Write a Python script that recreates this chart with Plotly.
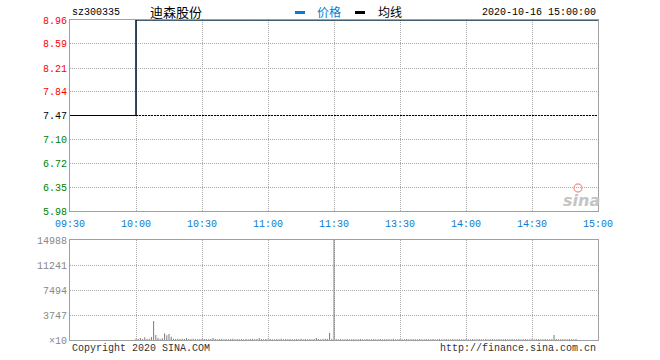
import plotly.graph_objects as go

# ---------------- data ----------------
stock_code = "sz300335"
stock_name = "迪森股份"
stamp = "2020-10-16 15:00:00"
time_labels = ["09:30", "10:00", "10:30", "11:00", "11:30", "13:30", "14:00", "14:30", "15:00"]
time_tick_index = [0, 30, 60, 90, 120, 150, 180, 210, 240]
prev_close = 7.47
price_ticks = [5.98, 6.35, 6.72, 7.10, 7.47, 7.84, 8.21, 8.59, 8.96]
pct_labels = ["-19.95%", "-14.96%", "-9.97%", "-4.99%", "0.00%", "+4.99%", "+9.97%", "+14.96%", "+19.95%"]
vol_ticks = [0, 3747, 7494, 11241, 14988]
vol_labels = ["×10", "3747", "7494", "11241", "14988"]

minutes = list(range(241))
price = [7.47] * 30 + [8.96] * 211
avg_price = [7.47] * 30 + [8.96] * 211
volume = (
    [0] * 30
    + [200, 150, 300, 150, 400, 150, 200, 450, 2850, 750]
    + [300, 150, 250, 1000, 700, 900, 500, 200, 150, 200]
    + [150, 200, 150, 300, 150, 150, 200, 150, 100, 150]
    + [200, 150, 150, 100, 150, 300, 150, 100, 150, 200]
    + [100, 150, 100, 150, 200, 100, 150, 100, 150, 100]
    + [150, 100, 150, 200, 100, 150, 300, 150, 100, 150]
    + [100, 150, 100, 100, 150, 100, 200, 100, 150, 100]
    + [150, 100, 100, 150, 100, 200, 100, 150, 100, 150]
    + [100, 150, 300, 150, 100, 150, 200, 150, 1100, 150]
    + [14988]
    + [150, 100, 150, 100, 100, 150, 100, 100, 150, 100]
    + [100, 150, 100, 100, 150, 100, 100, 150, 100, 100]
    + [150, 100, 100, 150, 100, 100, 200, 100, 100, 150]
    + [100, 100, 150, 100, 100, 150, 100, 100, 150, 100]
    + [100, 150, 100, 100, 150, 100, 100, 150, 100, 100]
    + [150, 100, 100, 150, 100, 100, 150, 100, 100, 150]
    + [100, 100, 150, 100, 100, 150, 100, 100, 150, 100]
    + [100, 150, 100, 100, 150, 100, 100, 150, 100, 100]
    + [150, 100, 100, 150, 100, 100, 150, 100, 100, 150]
    + [100, 100, 150, 100, 100, 150, 100, 100, 150, 750]
    + [150, 100, 100, 150, 100, 100, 150, 100, 100, 150]
)

# ---------------- style ----------------
W, H = 660, 360
X0, X1 = 70, 598
MAIN_TOP, MAIN_BOT = 20, 211
VOL_TOP, VOL_BOT = 240, 340
RED, GREEN, BLACK = "#ff0000", "#008000", "#000000"
BLUE = "#0b7ad0"
FRAME = "#a0a0a0"
GRID = "#aaaaaa"
GRID_DASH = "1px,1px"
MONO = "Liberation Mono, DejaVu Sans Mono, monospace"
CJK = "Noto Sans CJK SC, sans-serif"


def colored(values, labels):
    out = []
    for v, lab in zip(values, labels):
        c = RED if v > prev_close + 1e-9 else (GREEN if v < prev_close - 1e-9 else BLACK)
        out.append(f"<span style='color:{c}'>{lab}</span>")
    return out


def px_x(x):
    return x / W


def px_y(y):
    return 1 - y / H


fig = go.Figure()

fig.add_trace(go.Scatter(x=[minutes[0], minutes[-1]], y=[prev_close, prev_close], mode="lines",
                         line=dict(color=BLACK, width=1, dash="2px,1px"), xaxis="x", yaxis="y",
                         hoverinfo="skip", showlegend=False))
fig.add_trace(go.Scatter(x=minutes, y=price, mode="lines", line=dict(color=BLUE, width=1, shape="hv"),
                         name="价格", xaxis="x", yaxis="y", showlegend=False))
fig.add_trace(go.Scatter(x=minutes, y=avg_price, mode="lines", line=dict(color=BLACK, width=1.2, shape="hv"),
                         name="均线", xaxis="x", yaxis="y", showlegend=False))
fig.add_trace(go.Bar(x=minutes, y=volume, width=0.45, marker=dict(color="#7a7a7a", line=dict(width=0)),
                     xaxis="x2", yaxis="y3", showlegend=False))

common_x = dict(domain=[px_x(X0), px_x(X1)], range=[0, 240], tickvals=time_tick_index,
                showgrid=True, griddash=GRID_DASH, gridcolor=GRID, gridwidth=1, automargin=False,
                showline=True, linecolor=FRAME, linewidth=1, mirror=True, zeroline=False, ticks="")

fig.update_layout(
    width=W, height=H, margin=dict(l=0, r=0, t=0, b=0, autoexpand=False),
    paper_bgcolor="white", plot_bgcolor="white", showlegend=False,
    xaxis=dict(**common_x, anchor="y", ticktext=time_labels, ticklabelstandoff=3,
               tickfont=dict(family=MONO, size=10, color=BLUE)),
    yaxis=dict(domain=[px_y(MAIN_BOT), px_y(MAIN_TOP)], range=[price_ticks[0], price_ticks[-1]],
               tickvals=price_ticks, ticktext=colored(price_ticks, [f"{v:.2f}" for v in price_ticks]),
               tickfont=dict(family=MONO, size=10), showgrid=True, griddash=GRID_DASH, gridcolor=GRID,
               showline=True, linecolor=FRAME, mirror=True, zeroline=False, ticks="", anchor="x",
               automargin=False),
    yaxis2=dict(overlaying="y", side="right", anchor="x", range=[price_ticks[0], price_ticks[-1]],
                tickvals=price_ticks, ticktext=colored(price_ticks, pct_labels),
                tickfont=dict(family=MONO, size=10), showgrid=False, zeroline=False, ticks="",
                showline=False, automargin=False),
    xaxis2=dict(**common_x, anchor="y3", showticklabels=False),
    yaxis3=dict(domain=[px_y(VOL_BOT), px_y(VOL_TOP)], range=[0, vol_ticks[-1]], anchor="x2",
                tickvals=vol_ticks, ticktext=vol_labels,
                tickfont=dict(family=MONO, size=10, color="#888888"), showgrid=True, griddash=GRID_DASH,
                gridcolor=GRID, showline=True, linecolor=FRAME, mirror=True, zeroline=False, ticks="",
                automargin=False),
)

# header texts
anns = [
    dict(text=stock_code, x=px_x(70), y=px_y(13), xanchor="left", font=dict(family=MONO, size=10, color=BLACK)),
    dict(text=stock_name, x=px_x(176), y=px_y(12), xanchor="center", font=dict(family=CJK, size=13, color=BLACK)),
    dict(text="价格", x=px_x(315), y=px_y(12), xanchor="left", font=dict(family=CJK, size=12, color=BLUE)),
    dict(text="均线", x=px_x(376), y=px_y(12), xanchor="left", font=dict(family=CJK, size=12, color=BLACK)),
    dict(text=stamp, x=px_x(598), y=px_y(13), xanchor="right", font=dict(family=MONO, size=10, color=BLACK)),
    dict(text="Copyright 2020 SINA.COM", x=px_x(70), y=px_y(348), xanchor="left",
         font=dict(family=MONO, size=10, color="#333333")),
    dict(text="http://finance.sina.com.cn", x=px_x(598), y=px_y(348), xanchor="right",
         font=dict(family=MONO, size=10, color="#333333")),
    dict(text="<i><b>sina</b></i>", x=px_x(581), y=px_y(200), xanchor="center",
         font=dict(family="DejaVu Sans, sans-serif", size=16, color="#c4c4c4")),
]
for a in anns:
    a.update(xref="paper", yref="paper", yanchor="middle", showarrow=False)
fig.update_layout(annotations=anns)

fig.add_shape(type="rect", xref="paper", yref="paper", x0=px_x(295), x1=px_x(305), y0=px_y(14), y1=px_y(11),
              fillcolor=BLUE, line=dict(width=0))
fig.add_shape(type="rect", xref="paper", yref="paper", x0=px_x(355), x1=px_x(365), y0=px_y(14), y1=px_y(11),
              fillcolor=BLACK, line=dict(width=0))
fig.add_shape(type="circle", xref="paper", yref="paper", x0=px_x(574), x1=px_x(582), y0=px_y(192), y1=px_y(184),
              fillcolor="rgba(0,0,0,0)", line=dict(color="#f4a0a0", width=1.5))

# page body has a default 8px margin; remove it so the 660x360 figure fills the window exactly
fig.write_html("out.html", config={"displayModeBar": False, "staticPlot": True},
               post_script="document.body.style.margin='0';document.body.style.padding='0';")
